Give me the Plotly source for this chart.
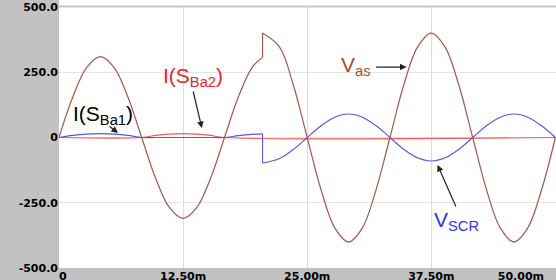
import plotly.graph_objects as go

# ---- data (time in ms) ----
t_vas_a = [0, 1.39, 2.78, 4.17, 5.56, 6.94, 8.33, 9.72, 11.11, 12.5, 13.89, 15.28, 16.67, 18.06, 19.44, 20.5]
v_vas_a = [0, 155, 268, 310, 268, 155, 0, -155, -268, -310, -268, -155, 0, 155, 268, 307]
t_vas_b = [20.5, 22.22, 23.61, 25.0, 26.39, 27.78, 29.17, 30.56, 31.94, 33.33, 34.72, 36.11, 37.5,
           38.89, 40.28, 41.67, 43.06, 44.44, 45.83, 47.22, 48.61, 50.0]
v_vas_b = [400, 346, 200, 0, -200, -346, -400, -346, -200, 0, 200, 346, 400,
           346, 200, 0, -200, -346, -400, -346, -200, 0]

t_blue_a = [0, 1.39, 2.78, 4.17, 5.56, 6.94, 8.33, 9.72, 11.11, 12.5, 13.89, 15.28, 16.67, 18.06, 19.44, 20.5]
v_blue_a = [0, 8, 13, 15, 13, 8, 0, 0, 0, 0, 0, 0, 0, 7, 12, 14]
t_blue_b = [20.5, 22.22, 23.61, 25.0, 26.39, 27.78, 29.17, 30.56, 31.94, 33.33, 34.72, 36.11, 37.5,
            38.89, 40.28, 41.67, 43.06, 44.44, 45.83, 47.22, 48.61, 50.0]
v_blue_b = [-98, -80, -46, 0, 45, 78, 90, 78, 45, 0, -45, -78, -90,
            -78, -45, 0, 45, 78, 90, 78, 45, 0]

t_red = [0, 8.33, 9.72, 11.11, 12.5, 13.89, 15.28, 16.67, 50.0]
v_red = [0, 0, 8, 13, 15, 13, 8, 0, 0]

y_ticks = [-500, -250, 0, 250, 500]
y_text = ["-500.0", "-250.0", "0", "250.0", "500.0"]
x_ticks = [0, 12.5, 25, 37.5, 50]
x_text = ["\u00a0\u00a00", "12.50m", "25.00m", "37.50m", "50.00m" + "\u00a0" * 18]

BROWN = "#a4584c"
BLUE = "#5656e6"
RED = "#f05a5a"
GRAY = "#c2c2c2"

fig = go.Figure()
# red I(SBa2)
fig.add_trace(go.Scatter(x=t_red, y=v_red, mode="lines", line=dict(color=RED, width=1.1, shape="spline"),
                         hoverinfo="skip"))
# blue I(SBa1) / V_SCR
fig.add_trace(go.Scatter(x=t_blue_a, y=v_blue_a, mode="lines", line=dict(color=BLUE, width=1.1, shape="spline"),
                         hoverinfo="skip"))
fig.add_trace(go.Scatter(x=[t_blue_a[-1], t_blue_b[0]], y=[v_blue_a[-1], v_blue_b[0]], mode="lines",
                         line=dict(color=BLUE, width=1.1), hoverinfo="skip"))
fig.add_trace(go.Scatter(x=t_blue_b, y=v_blue_b, mode="lines", line=dict(color=BLUE, width=1.1, shape="spline"),
                         hoverinfo="skip"))
# brown Vas
fig.add_trace(go.Scatter(x=t_vas_a, y=v_vas_a, mode="lines", line=dict(color=BROWN, width=1.2, shape="spline"),
                         hoverinfo="skip"))
fig.add_trace(go.Scatter(x=[t_vas_a[-1], t_vas_b[0]], y=[v_vas_a[-1], v_vas_b[0]], mode="lines",
                         line=dict(color=BROWN, width=1.2), hoverinfo="skip"))
fig.add_trace(go.Scatter(x=t_vas_b, y=v_vas_b, mode="lines", line=dict(color=BROWN, width=1.2, shape="spline"),
                         hoverinfo="skip"))

lab_font = "Liberation Sans, Arial, sans-serif"
ann = []
def label(x, y, text, color):
    ann.append(dict(x=x, y=y, xref="x", yref="y", text=text, showarrow=False,
                    font=dict(family=lab_font, size=21, color=color), xanchor="center", yanchor="middle"))
def arrow(x0, y0, x1, y1):
    ann.append(dict(x=x1, y=y1, ax=x0, ay=y0, xref="x", yref="y", axref="x", ayref="y", text="",
                    showarrow=True, arrowhead=2, arrowsize=1.1, arrowwidth=1.2, arrowcolor="#222222"))

label(4.43, 86, "I(S<sub>Ba1</sub>)", "black")
label(13.48, 232, "I(S<sub>Ba2</sub>)", "#e8242c")
label(29.88, 274, "V<sub>as</sub>", "#a0522d")
label(40.04, -320, "V<sub>SCR</sub>", "#3434e0")
arrow(4.93, 48, 5.94, 17)
arrow(13.48, 182, 14.39, 36)
arrow(31.79, 270, 35.01, 270)
arrow(40.04, -270, 38.13, -105)

tick_font = dict(family="DejaVu Sans, Arial", size=11, color="black", weight="bold")

fig.update_layout(
    width=556, height=280,
    margin=dict(l=59, r=0, t=7, b=12, autoexpand=False),
    paper_bgcolor=GRAY, plot_bgcolor="white",
    showlegend=False,
    annotations=ann,
    xaxis=dict(range=[0, 50.06], tickvals=x_ticks, ticktext=x_text, showgrid=True, gridcolor="#dcdcdc",
               gridwidth=1, zeroline=False, showline=False, ticks="", tickfont=tick_font, fixedrange=True,
               ticklabelstandoff=0, ticklabeloverflow="allow", automargin=False),
    yaxis=dict(range=[-500, 500], tickvals=y_ticks, ticktext=y_text, showgrid=True, gridcolor="#e4e4e4",
               gridwidth=1, zeroline=False, showline=False, ticks="", tickfont=tick_font, fixedrange=True,
               automargin=False),
    shapes=[
        dict(type="rect", xref="paper", yref="paper", x0=0, x1=1.01, y0=1, y1=1.04,
             fillcolor="white", line=dict(width=0), layer="below"),
        dict(type="line", xref="paper", yref="paper", x0=0, x1=1.01, y0=1.002, y1=1.002,
             line=dict(color="#c8c8c8", width=2)),
    ],
)

fig.write_html("out.html", config={"displayModeBar": False},
               post_script="document.body.style.margin='0';document.body.style.overflow='hidden';")
